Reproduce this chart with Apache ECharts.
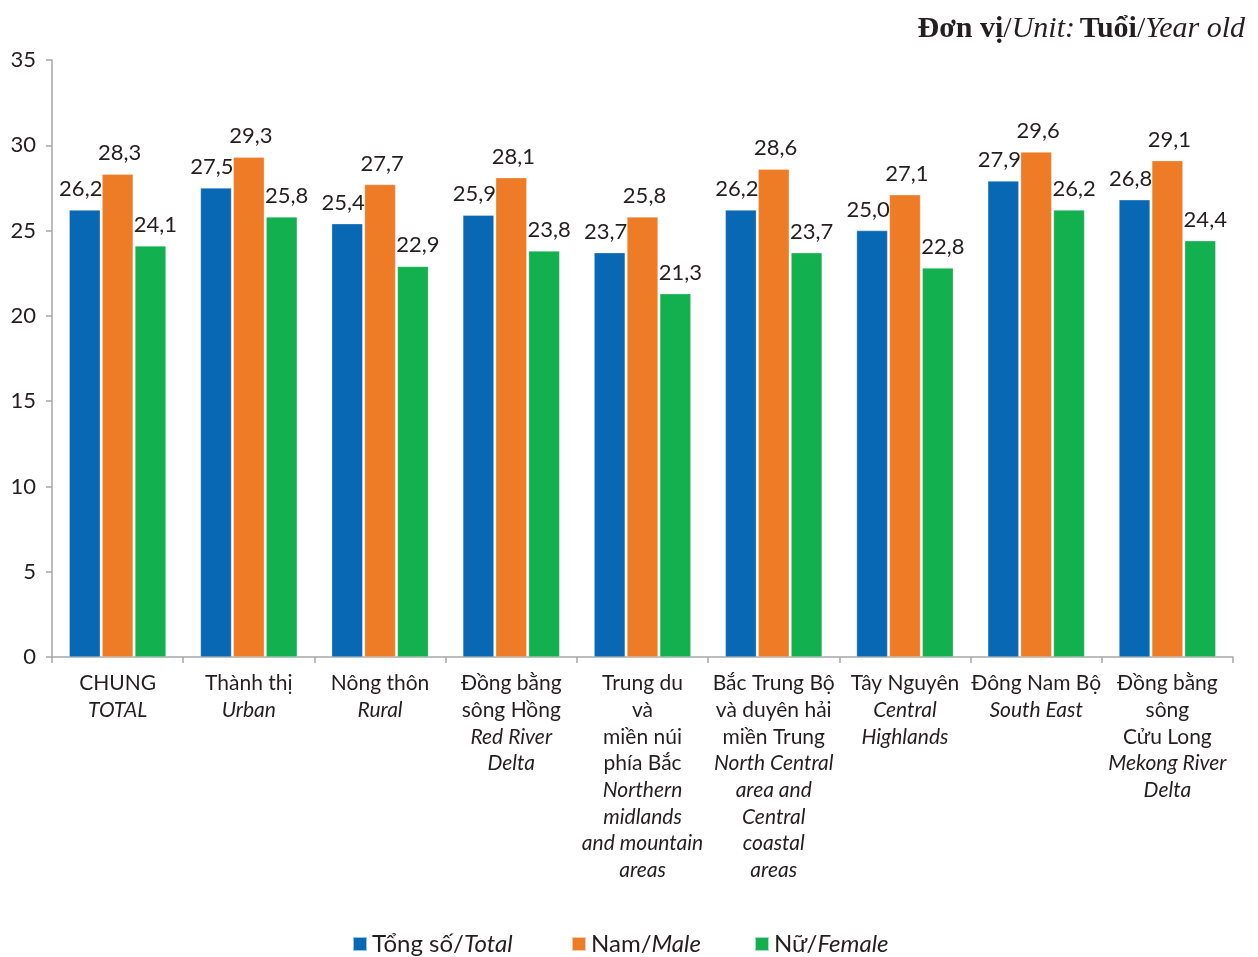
<!DOCTYPE html>
<html>
<head>
<meta charset="utf-8">
<script src="https://cdn.jsdelivr.net/npm/echarts@6/dist/echarts.min.js"></script>
<style>html,body{margin:0;padding:0;background:#fff}#c{width:1258px;height:957px}</style>
</head>
<body>
<div id="c"></div>
<script>
const categoriesVi = [
  ["CHUNG"],
  ["Thành thị"],
  ["Nông thôn"],
  ["Đồng bằng", "sông Hồng"],
  ["Trung du", "và", "miền núi", "phía Bắc"],
  ["Bắc Trung Bộ", "và duyên hải", "miền Trung"],
  ["Tây Nguyên"],
  ["Đông Nam Bộ"],
  ["Đồng bằng", "sông", "Cửu Long"]
];
const categoriesEn = [
  ["TOTAL"],
  ["Urban"],
  ["Rural"],
  ["Red River", "Delta"],
  ["Northern", "midlands", "and mountain", "areas"],
  ["North Central", "area and", "Central", "coastal", "areas"],
  ["Central", "Highlands"],
  ["South East"],
  ["Mekong River", "Delta"]
];
const totalValues  = [26.2, 27.5, 25.4, 25.9, 23.7, 26.2, 25.0, 27.9, 26.8];
const maleValues   = [28.3, 29.3, 27.7, 28.1, 25.8, 28.6, 27.1, 29.6, 29.1];
const femaleValues = [24.1, 25.8, 22.9, 23.8, 21.3, 23.7, 22.8, 26.2, 24.4];
const seriesNames = ["Tổng số/Total", "Nam/Male", "Nữ/Female"];
const yTicks = [0, 5, 10, 15, 20, 25, 30, 35];

const FONT = 'Lato, "Open Sans", sans-serif';
const SERIF = '"Liberation Serif", "DejaVu Serif", serif';
const TXT = '#231f20';
const colors = ['#0868b4', '#ee7b26', '#12b04e'];

const catKeys = categoriesVi.map((v, i) => 'c' + i);
const fmt = v => v.toFixed(1).replace('.', ',');

const chart = echarts.init(document.getElementById('c'), null, {renderer: 'canvas'});

function mkSeries(name, data, color, dx) {
  return {
    name: name,
    type: 'bar',
    data: data,
    barWidth: 31,
    barGap: '6%',
    itemStyle: {color: color, borderColor: 'rgba(255,255,255,0.6)', borderWidth: 0.5},
    label: {
      show: true, position: 'top', distance: 10, offset: [dx, 0],
      formatter: p => fmt(p.value),
      fontFamily: FONT, fontSize: 22, color: TXT
    }
  };
}

function mkLegend(name, left) {
  return {
    top: 932, left: left, padding: 0,
    itemWidth: 14, itemHeight: 14, itemGap: 0,
    icon: 'rect',
    data: [name],
    formatter: n => {
      const p = n.split('/');
      return '{n|' + p[0] + '/}{i|' + p[1] + '}';
    },
    textStyle: {
      rich: {
        n: {fontFamily: FONT, fontSize: 24, color: TXT},
        i: {fontFamily: FONT, fontSize: 24, fontStyle: 'italic', color: TXT}
      }
    }
  };
}

chart.setOption({
  animation: false,
  backgroundColor: '#fff',
  textStyle: {fontFamily: FONT},
  title: {
    right: 8, top: 9,
    text: '{b|Đơn vị}{n|/}{i|Unit:} {b|Tuổi}{n|/}{i|Year old}',
    textStyle: {
      fontWeight: 'normal',
      rich: {
        b: {fontFamily: SERIF, fontWeight: 'bold', fontSize: 30, color: TXT},
        n: {fontFamily: SERIF, fontWeight: 'normal', fontSize: 30, color: TXT},
        i: {fontFamily: SERIF, fontWeight: 'normal', fontStyle: 'italic', fontSize: 30, color: TXT}
      }
    }
  },
  legend: [
    mkLegend(seriesNames[0], 352),
    mkLegend(seriesNames[1], 571),
    mkLegend(seriesNames[2], 754)
  ],
  grid: {left: 52, right: 25, top: 60, bottom: 300, containLabel: false},
  xAxis: {
    type: 'category',
    data: catKeys,
    axisLine: {lineStyle: {color: '#a6a6a6', width: 1.5}},
    axisTick: {show: true, alignWithLabel: false, length: 6, lineStyle: {color: '#a6a6a6', width: 1.5}},
    axisLabel: {
      interval: 0, margin: 13,
      formatter: (v) => {
        const i = catKeys.indexOf(v);
        const a = categoriesVi[i].map(s => '{n|' + s + '}');
        const b = categoriesEn[i].map(s => '{i|' + s + '}');
        return a.concat(b).join('\n');
      },
      rich: {
        n: {fontFamily: FONT, fontSize: 21, color: TXT, lineHeight: 26.7},
        i: {fontFamily: FONT, fontSize: 21, fontStyle: 'italic', color: TXT, lineHeight: 26.7}
      }
    }
  },
  yAxis: {
    type: 'value',
    min: yTicks[0], max: yTicks[yTicks.length - 1], interval: 5,
    splitLine: {show: false},
    axisLine: {show: true, lineStyle: {color: '#a6a6a6', width: 1.5}},
    axisTick: {show: true, length: 6, lineStyle: {color: '#a6a6a6', width: 1.5}},
    axisLabel: {fontFamily: FONT, fontSize: 22, color: TXT, margin: 16}
  },
  series: [
    mkSeries(seriesNames[0], totalValues, colors[0], -4),
    mkSeries(seriesNames[1], maleValues, colors[1], 2),
    mkSeries(seriesNames[2], femaleValues, colors[2], 5)
  ]
});
</script>
</body>
</html>
